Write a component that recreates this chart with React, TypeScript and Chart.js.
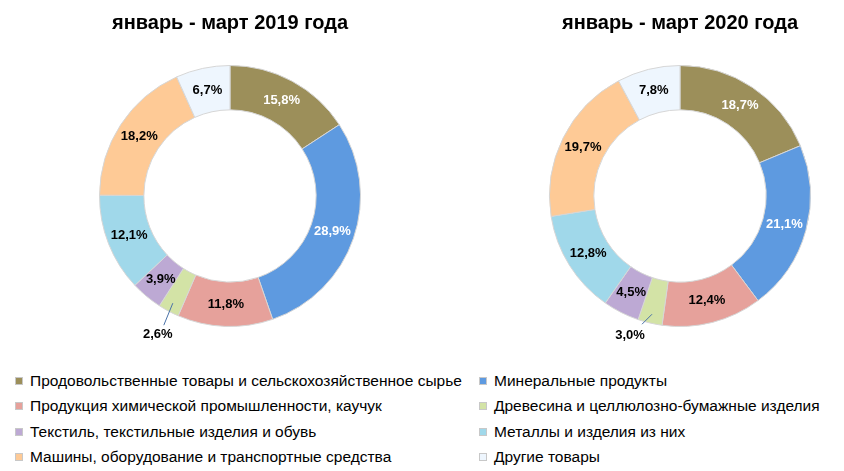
import React, { useEffect, useRef } from 'react';
import { Chart, registerables } from 'chart.js';

Chart.register(...registerables);

const categories = [
  'Продовольственные товары и сельскохозяйственное сырье',
  'Минеральные продукты',
  'Продукция химической промышленности, каучук',
  'Древесина и целлюлозно-бумажные изделия',
  'Текстиль, текстильные изделия и обувь',
  'Металлы и изделия из них',
  'Машины, оборудование и транспортные средства',
  'Другие товары',
];

const values2019 = [15.8, 28.9, 11.8, 2.6, 3.9, 12.1, 18.2, 6.7];
const values2020 = [18.7, 21.1, 12.4, 3.0, 4.5, 12.8, 19.7, 7.8];

const title2019 = 'январь - март 2019 года';
const title2020 = 'январь - март 2020 года';

const colors = ['#9C8F5A', '#5E9AE0', '#E6A19B', '#D3E3A6', '#BDA9D4', '#A0D8EA', '#FECA96', '#EEF6FE'];
const labelColors = ['#FFFFFF', '#FFFFFF', '#000000', '#000000', '#000000', '#000000', '#000000', '#000000'];

const FONT = '"Liberation Sans", Arial, sans-serif';

const fmt = (v: number) => v.toFixed(1).replace('.', ',') + '%';

const sliceLabels = {
  id: 'sliceLabels',
  afterDatasetsDraw(chart: any, _args: any, opts: any) {
    const ctx = chart.ctx;
    const meta = chart.getDatasetMeta(0);
    const ds = chart.data.datasets[0];
    ctx.save();
    ctx.font = 'bold 13px ' + FONT;
    ctx.textAlign = 'center';
    ctx.textBaseline = 'middle';
    meta.data.forEach((arc: any, i: number) => {
      const p = arc.getProps(['x', 'y', 'startAngle', 'endAngle', 'innerRadius', 'outerRadius'], true);
      const mid = (p.startAngle + p.endAngle) / 2;
      const v = ds.data[i];
      const text = fmt(v);
      if (v < opts.outsideBelow) {
        const r0 = p.outerRadius - 9;
        const sx = p.x + Math.cos(mid) * r0;
        const sy = p.y + Math.sin(mid) * r0;
        const lx = sx + opts.calloutOffset[0];
        const ly = sy + opts.calloutOffset[1];
        ctx.strokeStyle = '#4A72A8';
        ctx.lineWidth = 1;
        ctx.beginPath();
        ctx.moveTo(sx, sy);
        ctx.lineTo(lx + opts.lineEnd[0], ly + opts.lineEnd[1]);
        ctx.stroke();
        ctx.fillStyle = '#000000';
        ctx.fillText(text, lx, ly);
      } else {
        const r = (p.innerRadius + p.outerRadius) / 2;
        ctx.fillStyle = labelColors[i];
        ctx.fillText(text, p.x + Math.cos(mid) * r, p.y + Math.sin(mid) * r);
      }
    });
    ctx.restore();
  },
};

const titlePlugin = {
  id: 'topTitle',
  afterDraw(chart: any, _args: any, opts: any) {
    const ctx = chart.ctx;
    ctx.save();
    ctx.font = 'bold 20px ' + FONT;
    ctx.fillStyle = '#000000';
    ctx.textAlign = 'center';
    ctx.textBaseline = 'alphabetic';
    ctx.fillText(opts.text, chart.width / 2, 29);
    ctx.restore();
  },
};

function Donut(props: { values: number[]; title: string; left: number; width: number; calloutOffset: number[]; lineEnd: number[] }) {
  const ref = useRef<HTMLCanvasElement>(null);
  useEffect(() => {
    const chart = new Chart(ref.current as HTMLCanvasElement, {
      type: 'doughnut',
      data: {
        labels: categories,
        datasets: [
          {
            data: props.values,
            backgroundColor: colors,
            borderColor: '#D6D6D6',
            borderWidth: 1,
          },
        ],
      },
      options: {
        animation: false,
        responsive: false,
        cutout: '66%',
        layout: { padding: { top: 65, bottom: 23, left: 0, right: 0 } },
        plugins: {
          legend: { display: false },
          tooltip: { enabled: false },
          title: { display: false },
          sliceLabels: { outsideBelow: 3.5, calloutOffset: props.calloutOffset, lineEnd: props.lineEnd },
          topTitle: { text: props.title },
        } as any,
      },
      plugins: [sliceLabels, titlePlugin],
    });
    return () => chart.destroy();
  }, []);
  return (
    <canvas
      ref={ref}
      width={props.width}
      height={350}
      style={{ position: 'absolute', left: props.left, top: 0, width: props.width, height: 350 }}
    />
  );
}

export default function App() {
  useEffect(() => {
    document.body.style.margin = '0';
  }, []);
  return (
    <div style={{ position: 'relative', width: 844, height: 471, background: '#fff', overflow: 'hidden' }}>
      <Donut values={values2019} title={title2019} left={0} width={460} calloutOffset={[-15, 31]} lineEnd={[6, -9]} />
      <Donut values={values2020} title={title2020} left={500} width={360} calloutOffset={[-22, 21]} lineEnd={[12, -11]} />
      {categories.map((c, i) => {
        const col = i % 2;
        const row = Math.floor(i / 2);
        const cy = 381 + row * 25.3;
        const bx = col === 0 ? 15 : 479;
        return (
          <div key={c} style={{ position: 'absolute', left: bx, top: cy - 10, height: 20, display: 'flex', alignItems: 'center', whiteSpace: 'nowrap' }}>
            <div style={{ width: 6, height: 6, background: colors[i], border: '1px solid #C8C8C8', marginRight: 7 }} />
            <span style={{ fontFamily: FONT, fontSize: 15.5, color: '#000', lineHeight: '20px' }}>{c}</span>
          </div>
        );
      })}
    </div>
  );
}
